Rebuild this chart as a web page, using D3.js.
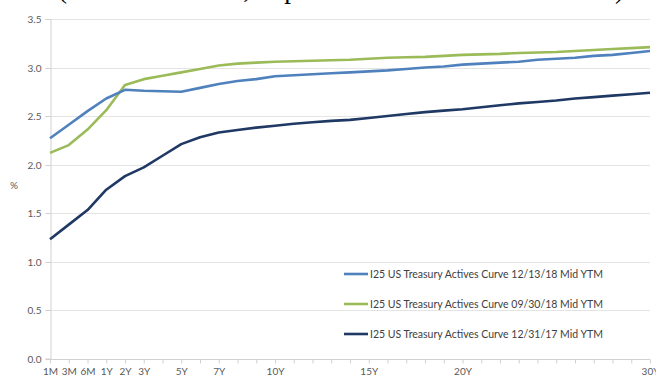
<!DOCTYPE html>
<html>
<head>
<meta charset="utf-8">
<script src="https://cdn.jsdelivr.net/npm/d3@7"></script>
<style>
  html, body { margin: 0; padding: 0; background: #fff; }
  svg { display: block; }
  .tick-label { font-family: Lato, "Open Sans", sans-serif; font-size: 10px; fill: #595959; }
  .legend-text { font-family: Lato, "Open Sans", sans-serif; font-size: 10.5px; fill: #404040; }
</style>
</head>
<body>
<div id="chart"></div>
<script>
'use strict';

// tenors on the category axis (every year is a slot, only some are labelled)
const tenors = ['1M', '3M', '6M', '1Y', '2Y', '3Y', '4Y', '5Y', '6Y', '7Y', '8Y', '9Y', '10Y',
  '11Y', '12Y', '13Y', '14Y', '15Y', '16Y', '17Y', '18Y', '19Y', '20Y',
  '21Y', '22Y', '23Y', '24Y', '25Y', '26Y', '27Y', '28Y', '29Y', '30Y'];
const labelledTenors = ['1M', '3M', '6M', '1Y', '2Y', '3Y', '5Y', '7Y', '10Y', '15Y', '20Y', '30Y'];
const yTicks = [0, 0.5, 1, 1.5, 2, 2.5, 3, 3.5];

// yields (%)
const curveDec18 = [2.27, 2.41, 2.55, 2.68, 2.77, 2.76, 2.755, 2.75, 2.79, 2.83, 2.86, 2.88, 2.91,
  2.92, 2.93, 2.94, 2.95, 2.96, 2.97, 2.985, 3.0, 3.01, 3.03,
  3.04, 3.05, 3.06, 3.08, 3.09, 3.10, 3.12, 3.13, 3.15, 3.17];
const curveSep18 = [2.12, 2.20, 2.36, 2.56, 2.82, 2.88, 2.915, 2.95, 2.985, 3.02, 3.04, 3.05, 3.06,
  3.065, 3.07, 3.075, 3.08, 3.09, 3.10, 3.105, 3.11, 3.12, 3.13,
  3.135, 3.14, 3.15, 3.155, 3.16, 3.17, 3.18, 3.19, 3.20, 3.21];
const curveDec17 = [1.23, 1.38, 1.53, 1.74, 1.88, 1.97, 2.09, 2.21, 2.28, 2.33, 2.355, 2.38, 2.40,
  2.42, 2.435, 2.45, 2.46, 2.48, 2.50, 2.52, 2.54, 2.555, 2.57,
  2.59, 2.61, 2.63, 2.645, 2.66, 2.68, 2.695, 2.71, 2.725, 2.74];

const seriesNames = [
  'I25 US Treasury Actives Curve 12/13/18 Mid YTM',
  'I25 US Treasury Actives Curve 09/30/18 Mid YTM',
  'I25 US Treasury Actives Curve 12/31/17 Mid YTM'
];
const seriesColors = ['#4f81bd', '#9bbb59', '#1f3864'];

const width = 656;
const height = 378;

const svg = d3.select('#chart')
  .append('svg')
  .attr('width', width)
  .attr('height', height);

// clipped caption from the slide above the chart
svg.append('text')
  .attr('x', 58).attr('y', -2)
  .attr('textLength', 192).attr('lengthAdjust', 'spacing')
  .style('font-family', '"Liberation Serif", serif').style('font-size', '27px').style('fill', '#000')
  .text('(Treasuries Actives Curve,');
svg.append('text')
  .attr('x', 266).attr('y', -2)
  .attr('textLength', 358).attr('lengthAdjust', 'spacing')
  .style('font-family', '"Liberation Serif", serif').style('font-size', '27px').style('fill', '#000')
  .text('Spot Rates at three dates)');

const x = d3.scalePoint().domain(tenors).range([50, 650]);
const y = d3.scaleLinear().domain([0, 3.5]).range([358.5, 19]);

// gridlines
svg.append('g')
  .selectAll('line')
  .data(yTicks.filter(d => d > 0))
  .join('line')
  .attr('x1', 50).attr('x2', 650)
  .attr('y1', d => Math.round(y(d)) + 0.5).attr('y2', d => Math.round(y(d)) + 0.5)
  .attr('stroke', '#e4e4e4').attr('stroke-width', 1);

// y axis
const yAxis = svg.append('g')
  .attr('transform', 'translate(50.5,0)')
  .call(d3.axisLeft(y).tickValues(yTicks).tickFormat(d3.format('.1f')).tickSize(5).tickPadding(4));
yAxis.select('.domain').attr('stroke', '#d0d0d0');
yAxis.selectAll('.tick line').attr('stroke', '#d0d0d0');
yAxis.selectAll('.tick text').attr('class', 'tick-label').attr('fill', null);
yAxis.selectAll('.tick').attr('transform', d => `translate(0,${Math.round(y(d)) + 0.5})`);

svg.append('text')
  .attr('class', 'tick-label')
  .attr('x', 14).attr('y', 189)
  .attr('text-anchor', 'middle')
  .text('%');

// x axis
const xAxis = svg.append('g')
  .attr('transform', `translate(0,${Math.round(y(0)) + 0.5})`)
  .call(d3.axisBottom(x).tickSize(4).tickPadding(4)
    .tickFormat(d => labelledTenors.includes(d) ? d : ''));
xAxis.select('.domain').attr('stroke', '#d0d0d0').attr('d', 'M50,0H650');
xAxis.selectAll('.tick line').attr('stroke', '#d0d0d0');
xAxis.selectAll('.tick text').attr('class', 'tick-label').attr('fill', null);

// curves
const allSeries = [curveDec18, curveSep18, curveDec17];
const line = d3.line()
  .x((d, i) => x(tenors[i]))
  .y(d => y(d));

svg.append('g')
  .selectAll('path')
  .data(allSeries.slice().reverse())
  .join('path')
  .attr('d', line)
  .attr('fill', 'none')
  .attr('stroke', (d, i) => seriesColors[allSeries.length - 1 - i])
  .attr('stroke-width', 2.6)
  .attr('stroke-linejoin', 'round');

// legend
const legend = svg.append('g')
  .selectAll('g')
  .data(seriesNames)
  .join('g')
  .attr('transform', (d, i) => `translate(344,${274 + i * 30})`);

legend.append('line')
  .attr('x1', 0).attr('x2', 24)
  .attr('stroke', (d, i) => seriesColors[i])
  .attr('stroke-width', 2.6);

legend.append('text')
  .attr('class', 'legend-text')
  .attr('x', 26).attr('y', 3.5)
  .text(d => d);
</script>
</body>
</html>
